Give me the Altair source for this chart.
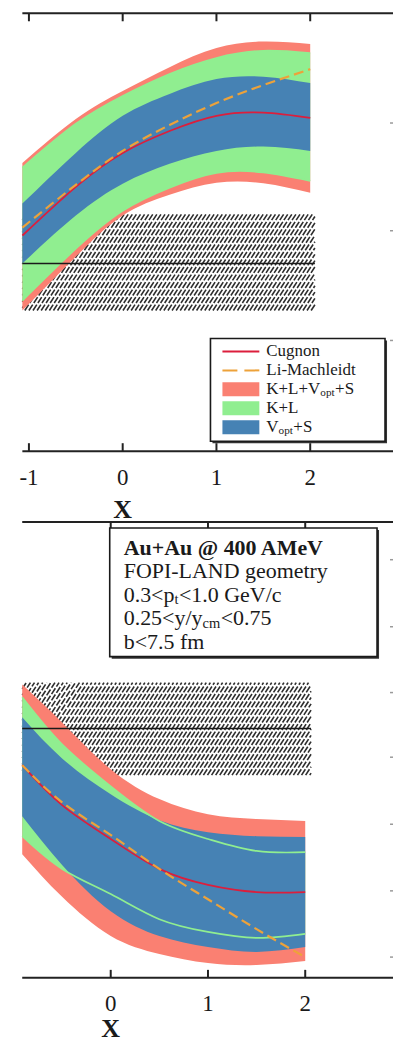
import altair as alt
import numpy as np
import pandas as pd

FONT = "Liberation Serif"
SALMON, GREEN, BLUE = "#fa8072", "#90ee90", "#4682b4"
RED, ORANGE, INK = "#dc1e3c", "#eda23a", "#1a1a1a"

# ---------------- upper panel: ratio observable vs x ----------------
xa = [-1.07, -0.5, 0.0, 0.5, 1.0, 1.5, 2.0]
a_salmon_hi = [1.225, 1.335, 1.405, 1.465, 1.513, 1.529, 1.523]
a_green_hi = [1.213, 1.323, 1.393, 1.448, 1.488, 1.506, 1.500]
a_blue_hi = [1.123, 1.250, 1.343, 1.398, 1.435, 1.441, 1.425]
a_cugnon = [1.043, 1.165, 1.250, 1.305, 1.343, 1.351, 1.338]
a_blue_lo = [0.973, 1.093, 1.173, 1.223, 1.255, 1.266, 1.255]
a_green_lo = [0.880, 1.010, 1.105, 1.163, 1.200, 1.201, 1.180]
a_salmon_lo = [0.855, 0.990, 1.093, 1.145, 1.175, 1.174, 1.150]
a_limach = [1.063, 1.170, 1.255, 1.320, 1.375, 1.420, 1.460]
a_exp, a_exp_lo, a_exp_hi = 0.973, 0.855, 1.098
a_exp_x = [-1.07, 2.05]
a_side_ticks = [1.325, 1.055, 0.780]
a_tick_labels = [-1, 0, 1, 2]

# ---------------- lower panel: difference observable vs x ----------------
xb = [-0.91, -0.5, 0.0, 0.5, 1.0, 1.5, 2.0]
b_salmon_hi = [0.535, 0.440, 0.323, 0.248, 0.210, 0.198, 0.193]
b_green_hi = [0.503, 0.385, 0.280, 0.193, 0.148, 0.118, 0.115]
b_blue_hi = [0.453, 0.350, 0.260, 0.195, 0.165, 0.155, 0.153]
b_cugnon = [0.333, 0.233, 0.148, 0.073, 0.033, 0.015, 0.015]
b_blue_lo = [0.205, 0.083, -0.033, -0.095, -0.123, -0.135, -0.123]
b_green_lo = [0.155, 0.073, 0.010, -0.053, -0.085, -0.100, -0.090]
b_salmon_lo = [0.110, 0.003, -0.095, -0.140, -0.163, -0.168, -0.158]
b_limach = [0.333, 0.240, 0.158, 0.073, -0.003, -0.078, -0.148]
b_exp, b_exp_lo, b_exp_hi = 0.425, 0.308, 0.540
b_exp_x = [-0.91, 2.06]
b_side_ticks = [0.848, 0.680, 0.515, 0.353, 0.185, 0.018, -0.148]
b_tick_labels = [0, 1, 2]

legend_labels = ["Cugnon", "Li-Machleidt", "K+L+V|opt|+S", "K+L", "V|opt|+S"]
info_lines = ["Au+Au @ 400 AMeV", "FOPI-LAND geometry", "0.3<p|t|<1.0 GeV/c",
              "0.25<y/y|cm|<0.75", "b<7.5 fm"]

# Times-like advance widths (per 1000 em) for pieces that precede a subscript
_W = {"0": 500, "1": 500, "2": 500, "3": 500, "5": 500, "7": 500, ".": 250,
      "<": 564, "+": 564, "p": 500, "y": 500, "/": 278, "K": 722, "L": 611,
      "V": 722, "o": 500, "t": 278, "c": 444, "m": 778}


def text_width(s, size):
    return sum(_W.get(ch, 500) for ch in s) * size / 1000.0


def one_row():
    return pd.DataFrame({"k": [0]})


def text_piece(s, x, y, size, bold=False):
    return alt.Chart(one_row()).mark_text(
        text=s, font=FONT, fontSize=size, fontWeight="bold" if bold else "normal",
        align="left", baseline="middle", color=INK,
    ).encode(x=alt.value(x), y=alt.value(y))


def rich_text(markup, x, y, size, bold=False):
    """'|' toggles subscript mode."""
    layers, cx = [], x
    for i, part in enumerate(markup.split("|")):
        if not part:
            continue
        sub = i % 2 == 1
        fs = size * 0.66 if sub else size
        dy = size * 0.24 if sub else 0
        layers.append(text_piece(part, cx, y + dy, fs, bold))
        cx += text_width(part, fs) + (0.5 if sub else 0)
    return layers


def box(x0, x1, y0, y1):
    d = one_row()
    shadow = alt.Chart(d).mark_rect(color="#333").encode(
        x=alt.value(x0 + 2), x2=alt.value(x1 + 2), y=alt.value(y0 + 2), y2=alt.value(y1 + 2))
    face = alt.Chart(d).mark_rect(fill="white", stroke=INK, strokeWidth=1.6).encode(
        x=alt.value(x0), x2=alt.value(x1), y=alt.value(y0), y2=alt.value(y1))
    return [shadow, face]


def build_panel(xs, sal_hi, grn_hi, blu_hi, cug, blu_lo, grn_lo, sal_lo, lim,
                exp, exp_lo, exp_hi, exp_x, side_ticks, x_dom, y_dom,
                width, height, tick_vals, label_vals, label_pad, title_gap, extra):
    xsc = alt.Scale(domain=x_dom, nice=False, zero=False)
    ysc = alt.Scale(domain=y_dom, nice=False, zero=False)

    def X(f):
        return alt.X(f, type="quantitative", scale=xsc, axis=None)

    def Y(f):
        return alt.Y(f, type="quantitative", scale=ysc, axis=None)

    px_x = width / (x_dom[1] - x_dom[0])
    px_y = height / (y_dom[1] - y_dom[0])

    # diagonal hatching of the measured band
    run = (exp_hi - exp_lo) * px_y / np.tan(np.radians(57))
    span = (exp_x[1] - exp_x[0]) * px_x
    u = np.arange(-run, span, 4.1)
    h0, h1 = np.clip(u, 0, span), np.clip(u + run, 0, span)
    keep = h1 > h0 + 0.5
    u, h0, h1 = u[keep], h0[keep], h1[keep]
    hatch = pd.DataFrame({
        "x": exp_x[0] + h0 / px_x, "x2": exp_x[0] + h1 / px_x,
        "y": exp_lo + (h0 - u) / run * (exp_hi - exp_lo),
        "y2": exp_lo + (h1 - u) / run * (exp_hi - exp_lo),
    })
    hatch_layer = alt.Chart(hatch).mark_rule(
        color="#2e2e2e", strokeWidth=1.6, strokeDash=[7, 2]).encode(
        x=X("x"), x2="x2", y=Y("y"), y2="y2")

    bands = pd.DataFrame({"x": xs, "sal_hi": sal_hi, "grn_hi": grn_hi, "blu_hi": blu_hi,
                          "cug": cug, "blu_lo": blu_lo, "grn_lo": grn_lo,
                          "sal_lo": sal_lo, "lim": lim})
    base = alt.Chart(bands)
    interp = "natural"
    area_sal = base.mark_area(color=SALMON, interpolate=interp).encode(
        x=X("x"), y=Y("sal_hi"), y2="sal_lo")
    area_grn = base.mark_area(color=GREEN, interpolate=interp).encode(
        x=X("x"), y=Y("grn_hi"), y2="grn_lo")
    area_blu = base.mark_area(color=BLUE, interpolate=interp).encode(
        x=X("x"), y=Y("blu_hi"), y2="blu_lo")
    edge_hi = base.mark_line(color=GREEN, strokeWidth=1.7, interpolate=interp).encode(
        x=X("x"), y=Y("grn_hi"))
    edge_lo = base.mark_line(color=GREEN, strokeWidth=1.7, interpolate=interp).encode(
        x=X("x"), y=Y("grn_lo"))
    line_cug = base.mark_line(color=RED, strokeWidth=1.8, interpolate=interp).encode(
        x=X("x"), y=Y("cug"))
    line_lim = base.mark_line(color=ORANGE, strokeWidth=2.2, strokeDash=[10, 5],
                              interpolate=interp).encode(x=X("x"), y=Y("lim"))

    exp_line = alt.Chart(pd.DataFrame({"x": [exp_x[0]], "x2": [exp_x[1]], "y": [exp]})).mark_rule(
        color=INK, strokeWidth=1.6).encode(x=X("x"), x2="x2", y=Y("y"))

    frame_df = pd.DataFrame({"x": [xs[0]], "x2": [x_dom[1]]})
    frame_top = alt.Chart(frame_df).mark_rule(color="#222", strokeWidth=2).encode(
        x=X("x"), x2="x2", y=alt.value(0))
    frame_bot = alt.Chart(frame_df).mark_rule(color="#222", strokeWidth=2).encode(
        x=X("x"), x2="x2", y=alt.value(height))

    tick_df = pd.DataFrame({"t": tick_vals})
    ticks_top = alt.Chart(tick_df).mark_rule(color="#222", strokeWidth=2).encode(
        x=X("t"), y=alt.value(0), y2=alt.value(8))
    ticks_bot = alt.Chart(tick_df).mark_rule(color="#222", strokeWidth=2).encode(
        x=X("t"), y=alt.value(height - 8), y2=alt.value(height))

    label_df = pd.DataFrame({"t": label_vals, "s": [str(v) for v in label_vals]})
    tick_text = alt.Chart(label_df).mark_text(
        font=FONT, fontSize=23, baseline="middle", align="center", color=INK).encode(
        x=X("t"), y=alt.value(height + label_pad), text="s:N")

    side = alt.Chart(pd.DataFrame({"y": side_ticks})).mark_rule(
        color="#9a9a9a", strokeWidth=1.5).encode(
        x=alt.value(width - 3), x2=alt.value(width), y=Y("y"))

    x_title = alt.Chart(pd.DataFrame({"x": [0.0]})).mark_text(
        text="X", font=FONT, fontSize=26, fontWeight="bold", baseline="middle",
        color=INK).encode(x=X("x"), y=alt.value(height + title_gap))

    layers = [hatch_layer, area_sal, area_grn, area_blu, edge_hi, edge_lo,
              exp_line, line_cug, line_lim, frame_top, frame_bot, ticks_top,
              ticks_bot, tick_text, side, x_title] + extra
    return alt.layer(*layers).properties(width=width, height=height)


# legend of the upper panel
leg = box(211, 386, 326, 429)
symbols = [("line", RED, None), ("line", ORANGE, [15, 7]), ("rect", SALMON, None),
           ("rect", GREEN, None), ("rect", BLUE, None)]
for i, (label, (kind, col, dash)) in enumerate(zip(legend_labels, symbols)):
    yc = 339 + i * 19
    if kind == "line":
        props = {"color": col, "strokeWidth": 2}
        if dash:
            props["strokeDash"] = dash
        leg.append(alt.Chart(one_row()).mark_rule(**props).encode(
            x=alt.value(223), x2=alt.value(260), y=alt.value(yc)))
    else:
        leg.append(alt.Chart(one_row()).mark_rect(color=col).encode(
            x=alt.value(223), x2=alt.value(260), y=alt.value(yc - 7), y2=alt.value(yc + 7)))
    leg += rich_text(label, 267, yc, 17)

# annotation box of the lower panel
info = box(110, 378, 6, 135)
for i, line in enumerate(info_lines):
    info += rich_text(line, 124, 26 + i * 23.5, 22, bold=(i == 0))

top = build_panel(xa, a_salmon_hi, a_green_hi, a_blue_hi, a_cugnon, a_blue_lo,
                  a_green_lo, a_salmon_lo, a_limach, a_exp, a_exp_lo, a_exp_hi,
                  a_exp_x, a_side_ticks, [-1.3085, 2.883], [0.5025, 1.6],
                  394, 439, [-1, 0, 1, 2], a_tick_labels, 27, 59, leg)
bottom = build_panel(xb, b_salmon_hi, b_green_hi, b_blue_hi, b_cugnon, b_blue_lo,
                     b_green_lo, b_salmon_lo, b_limach, b_exp, b_exp_lo, b_exp_hi,
                     b_exp_x, b_side_ticks, [-1.1385, 2.9026], [-0.2, 0.9425],
                     394, 457, [0, 1, 2], b_tick_labels, 26, 51, info)

chart = alt.vconcat(top, bottom, spacing=71, bounds="flush").properties(
    padding={"left": 0, "top": 11, "right": 0, "bottom": 0},
    background="white",
).configure_view(strokeWidth=0)

chart.save("out.html", embed_options={"renderer": "svg", "actions": False})
